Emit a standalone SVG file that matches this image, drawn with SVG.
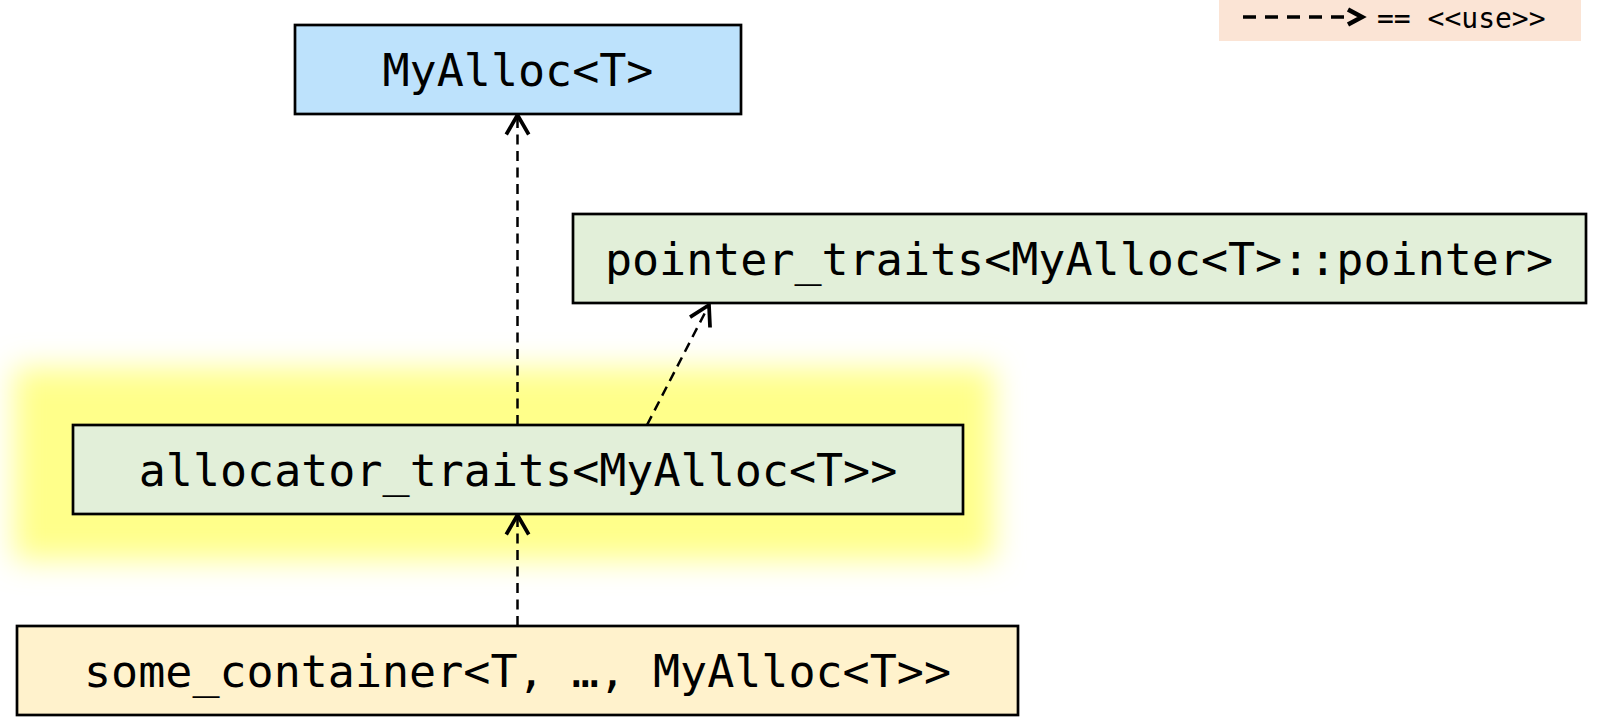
<svg xmlns="http://www.w3.org/2000/svg" width="1603" height="727" viewBox="0 0 1603 727">
  <style>
    .box { stroke: #000; stroke-width: 2.7; }
    .lbl { font-family: "DejaVu Sans Mono", "Liberation Mono", monospace; font-size: 45px; fill: #000; text-anchor: middle; }
    .dep { fill: none; stroke: #000; stroke-width: 2.5; stroke-dasharray: 10 6.5; marker-end: url(#chev); }
  </style>
  <defs>
    <filter id="glow" x="-10%" y="-40%" width="120%" height="180%">
      <feGaussianBlur stdDeviation="15"/>
    </filter>
    <marker id="chev" markerUnits="userSpaceOnUse" markerWidth="30" markerHeight="30" viewBox="-16 -10 20 20" refX="0" refY="0" orient="auto">
      <path d="M -13 -7.5 L 0 0 L -13 7.5" fill="none" stroke="#000" stroke-width="2.5" stroke-linejoin="miter"/>
    </marker>
  </defs>

  <rect width="1603" height="727" fill="#fff"/>

  <g id="legend">
    <rect x="1219" y="0" width="362" height="41" fill="#fbe4d5"/>
    <line x1="1243" y1="17" x2="1344" y2="17" stroke="#000" stroke-width="3.5" stroke-dasharray="13 9"/>
    <path d="M 1348 9.5 L 1362 17 L 1348 24.5" fill="none" stroke="#000" stroke-width="4.5"/>
    <text x="1377" y="28" font-family="DejaVu Sans Mono, monospace" font-size="28" fill="#000">== &lt;&lt;use&gt;&gt;</text>
  </g>

  <g id="highlight">
    <rect x="14" y="368" width="980" height="192" fill="#ffff8a" filter="url(#glow)"/>
  </g>

  <g id="connectors">
    <line class="dep" x1="517.5" y1="425" x2="517.5" y2="115"/>
    <line class="dep" x1="647" y1="425" x2="709" y2="305"/>
    <line class="dep" x1="517.5" y1="626" x2="517.5" y2="515"/>
  </g>

  <g id="myalloc">
    <rect class="box" x="295" y="25" width="446" height="89" fill="#bde2fc"/>
    <text class="lbl" x="518" y="86">MyAlloc&lt;T&gt;</text>
  </g>

  <g id="pointer_traits">
    <rect class="box" x="573" y="214" width="1013" height="89" fill="#e2efd9"/>
    <text class="lbl" x="1079" y="275">pointer_traits&lt;MyAlloc&lt;T&gt;::pointer&gt;</text>
  </g>

  <g id="allocator_traits">
    <rect class="box" x="73" y="425" width="890" height="89" fill="#e2efd9"/>
    <text class="lbl" x="518" y="486">allocator_traits&lt;MyAlloc&lt;T&gt;&gt;</text>
  </g>

  <g id="some_container">
    <rect class="box" x="17" y="626" width="1001" height="89" fill="#fff2cc"/>
    <text class="lbl" x="517.5" y="687">some_container&lt;T, …, MyAlloc&lt;T&gt;&gt;</text>
  </g>
</svg>
